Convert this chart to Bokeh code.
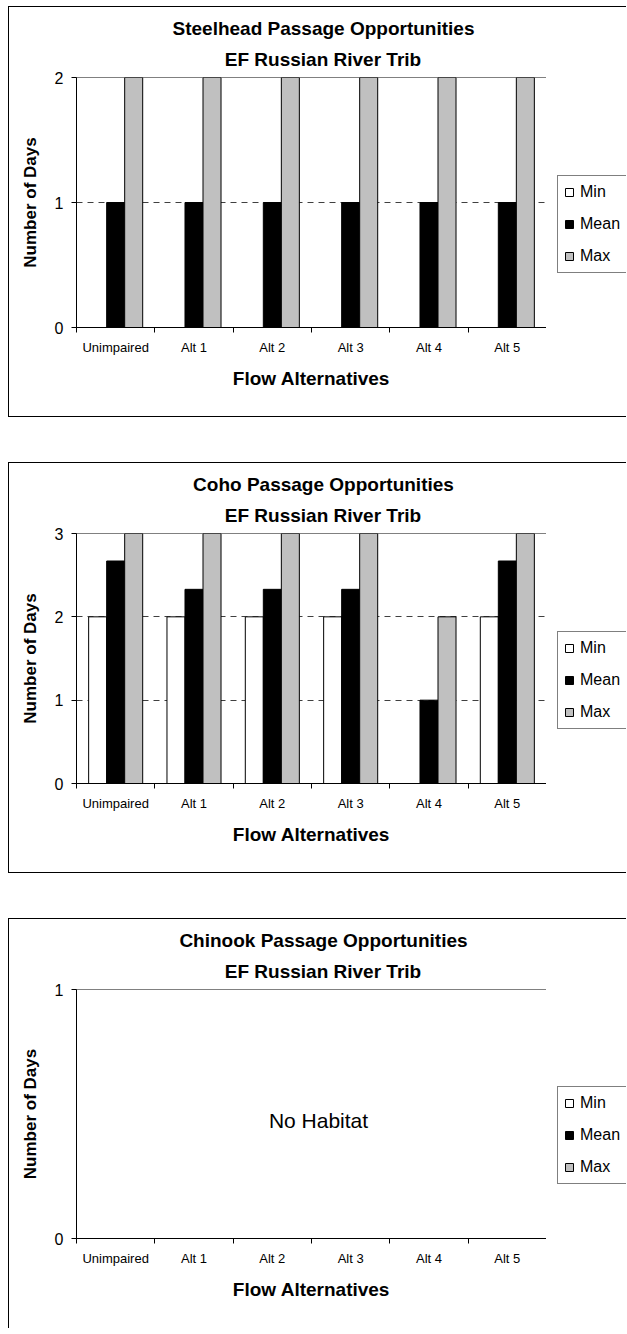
from bokeh.plotting import figure
from bokeh.layouts import column, row
from bokeh.models import (Range1d, FixedTicker, Legend,
                          LegendItem, Title, Label, ColumnDataSource)
from bokeh.transform import dodge
from bokeh.embed import file_html
from bokeh.resources import INLINE

# ---------------- data ----------------
categories = ["Unimpaired", "Alt 1", "Alt 2", "Alt 3", "Alt 4", "Alt 5"]
series_names = ["Min", "Mean", "Max"]
series_fill = ["white", "black", "#C0C0C0"]

steelhead_min = [0, 0, 0, 0, 0, 0]
steelhead_mean = [1, 1, 1, 1, 1, 1]
steelhead_max = [2, 2, 2, 2, 2, 2]
steelhead_yticks = [0, 1, 2]

coho_min = [2, 2, 2, 2, 0, 2]
coho_mean = [2.67, 2.33, 2.33, 2.33, 1, 2.67]
coho_max = [3, 3, 3, 3, 2, 3]
coho_yticks = [0, 1, 2, 3]

chinook_min = [None, None, None, None, None, None]
chinook_mean = [None, None, None, None, None, None]
chinook_max = [None, None, None, None, None, None]
chinook_yticks = [0, 1]

FONT = "Liberation Sans"
TITLE_PX = 19
W_MAIN, W_LEG = 538, 80
MB_L, MB_R, MB_T, MB_B = 67, 1, 70, 91

# Arial/Liberation Sans Bold advance widths (1/1000 em), used to centre titles
_BOLD_W = {" ": 278, "A": 722, "C": 722, "E": 667, "F": 611, "O": 778, "P": 667,
           "R": 722, "S": 667, "T": 611, "a": 556, "b": 611, "d": 611, "e": 556,
           "g": 611, "h": 611, "i": 278, "k": 556, "l": 278, "n": 611, "o": 611,
           "p": 611, "r": 389, "s": 556, "t": 333, "u": 611, "v": 556}


def bold_width(s, px):
    return sum(_BOLD_W.get(c, 600) for c in s) / 1000.0 * px


def make_panel(title1, title2, mins, means, maxs, yticks, H=411, note=None, bottom_border=True):
    n = len(categories)
    centers = [i + 0.5 for i in range(n)]   # category slots on a 0..n scale
    frame_w = W_MAIN - MB_L - MB_R
    p = figure(width=W_MAIN, height=H,
               x_range=Range1d(0, n),
               y_range=Range1d(yticks[0], yticks[-1]),
               output_backend="svg", toolbar_location=None,
               title=None)
    p.min_border_left = MB_L
    p.min_border_right = MB_R
    p.min_border_top = MB_T
    p.min_border_bottom = MB_B
    p.background_fill_color = "white"
    p.border_fill_color = "white"
    p.outline_line_color = "#808080"
    p.outline_line_width = 1

    src = ColumnDataSource(dict(xc=centers, cat=categories, mn=mins, me=means, mx=maxs))
    bw = 0.23
    cols = ["mn", "me", "mx"]
    for off, col, fc in zip([-bw, 0, bw], cols, series_fill):
        p.vbar(x=dodge("xc", off), top=col, width=bw, source=src,
               fill_color=fc, line_color="black", line_width=1)

    # y axis
    ya = p.left[0]
    ya.ticker = FixedTicker(ticks=yticks)
    ya.major_tick_in = 0
    ya.major_tick_out = 5
    ya.minor_tick_in = 0
    ya.minor_tick_out = 0
    ya.axis_line_color = "black"
    ya.major_tick_line_color = "black"
    ya.major_label_text_font = FONT
    ya.major_label_text_font_size = "16px"
    ya.major_label_text_color = "black"
    ya.major_label_standoff = 8
    ya.axis_label = "Number of Days"
    ya.axis_label_text_font = FONT
    ya.axis_label_text_font_size = "17px"
    ya.axis_label_text_font_style = "bold"
    ya.axis_label_text_color = "black"
    ya.axis_label_standoff = 12

    # grid
    p.ygrid.ticker = FixedTicker(ticks=yticks[1:-1])
    p.ygrid.grid_line_color = "#404040"
    p.ygrid.grid_line_dash = "6 5"
    p.ygrid.grid_line_width = 1
    p.xgrid.visible = False

    # x axis (the default one, below): labels at category centres,
    # tick marks between categories
    xa = p.below[0]
    xa.ticker = FixedTicker(ticks=centers, minor_ticks=list(range(n + 1)))
    xa.major_label_overrides = {c: lab for c, lab in zip(centers, categories)}
    xa.major_tick_in = 0
    xa.major_tick_out = 0
    xa.minor_tick_in = 0
    xa.minor_tick_out = 5
    xa.axis_line_color = "black"
    xa.minor_tick_line_color = "black"
    xa.major_label_text_font = FONT
    xa.major_label_text_font_size = "13px"
    xa.major_label_text_color = "black"
    xa.major_label_standoff = 7
    xa.axis_label = "Flow Alternatives"
    xa.axis_label_text_font = FONT
    xa.axis_label_text_font_size = "19px"
    xa.axis_label_text_font_style = "bold"
    xa.axis_label_text_color = "black"
    xa.axis_label_standoff = 10

    # titles: centred on the whole chart box (slightly right of the plot centre)
    centre = frame_w / 2 + 12
    for txt, so in ((title2, 16), (title1, 0)):   # nearest line first
        p.add_layout(Title(text=txt, text_font=FONT, text_font_size=f"{TITLE_PX}px",
                           text_font_style="bold", text_color="black", align="left",
                           offset=centre - bold_width(txt, TITLE_PX) / 2,
                           standoff=so), "above")

    if note:
        p.add_layout(Label(x=n / 2, y=(yticks[0] + yticks[-1]) / 2,
                           text=note, text_align="center", text_baseline="middle",
                           text_font=FONT, text_font_size="21px", text_color="black",
                           x_offset=7, y_offset=-6))

    # legend strip (right part of the chart box); its swatch renderers share the
    # panel's data but sit outside this strip's visible x range
    lg = figure(width=W_LEG, height=H, x_range=Range1d(-3, -2), y_range=Range1d(0, 1),
                output_backend="svg", toolbar_location=None,
                x_axis_location=None, y_axis_location=None)
    lg.min_border_left = lg.min_border_right = lg.min_border_top = lg.min_border_bottom = 0
    lg.outline_line_color = None
    lg.grid.visible = False
    lg.background_fill_color = "white"
    lg.border_fill_color = "white"
    swatches = [lg.vbar(x="xc", top=col, width=bw, source=src, fill_color=fc,
                        line_color="black", line_width=1)
                for col, fc in zip(cols, series_fill)]
    legend = Legend(items=[LegendItem(label=nm, renderers=[r])
                           for nm, r in zip(series_names, swatches)],
                    location=(11, 54))
    legend.label_text_font = FONT
    legend.label_text_font_size = "16px"
    legend.label_text_color = "black"
    legend.border_line_color = "black"
    legend.border_line_width = 1
    legend.background_fill_color = "white"
    legend.background_fill_alpha = 1
    legend.glyph_width = 10
    legend.glyph_height = 10
    legend.label_height = 20
    legend.label_width = 20
    legend.label_standoff = 6
    legend.spacing = 12
    legend.padding = 6
    legend.margin = 0
    lg.add_layout(legend, "center")

    st = {"border-top": "1px solid black", "border-left": "1px solid black"}
    st2 = {"border-top": "1px solid black"}
    if bottom_border:
        st["border-bottom"] = "1px solid black"
        st2["border-bottom"] = "1px solid black"
    p.styles = st
    lg.styles = st2
    return row(p, lg, spacing=0)


p1 = make_panel("Steelhead Passage Opportunities", "EF Russian River Trib",
                steelhead_min, steelhead_mean, steelhead_max, steelhead_yticks)
p2 = make_panel("Coho Passage Opportunities", "EF Russian River Trib",
                coho_min, coho_mean, coho_max, coho_yticks)
p3 = make_panel("Chinook Passage Opportunities", "EF Russian River Trib",
                chinook_min, chinook_mean, chinook_max, chinook_yticks,
                H=410, note="No Habitat", bottom_border=False)

layout = column(p1, p2, p3, spacing=45, margin=(6, 0, 0, 8))
open("out.html", "w").write(file_html(layout, INLINE))
